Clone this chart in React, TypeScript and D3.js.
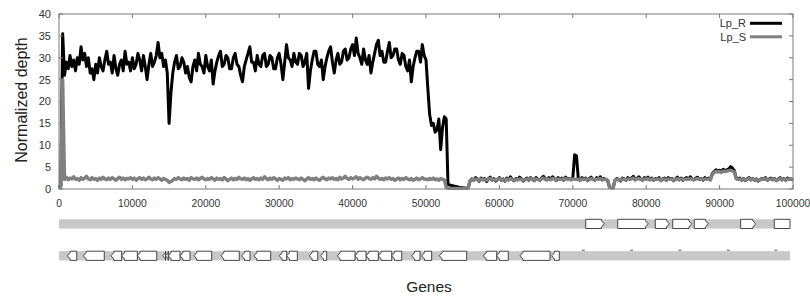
import React from "react";
import * as d3 from "d3";

// ---- data ----
const STEP = 250; // bp between depth samples
const lpR: number[] = [
  0.3, 0.8, 35.5, 26, 29, 27.5, 30.5, 28, 29.5, 27,
  30, 28.5, 32.5, 29.5, 31, 28, 30, 26.5, 27.5, 25,
  28.5, 26.5, 30, 28, 27, 29.5, 31.5, 28.5, 29, 26.5,
  30.5, 27.5, 26, 28.5, 29.5, 27, 31.5, 28.5, 29, 27,
  30, 27.5, 28.5, 31, 29.5, 27, 30.5, 28, 25, 28.5,
  31, 28, 29, 30.5, 33.5, 30, 31, 28, 29.5, 26.5,
  15, 22, 26.5, 29, 30.5, 27.5, 28, 30, 29, 26.5,
  28, 25.5, 24.5, 28, 29.5, 27, 31, 28.5, 28, 26.5,
  30.5, 28, 27, 29.5, 24, 27, 29, 30.5, 31.5, 28,
  28.5, 30.5, 30, 27.5, 27.5, 30, 31, 28.5, 28, 26,
  24.5, 28, 29.5, 31, 32.5, 29, 29, 27, 30.5, 28.5,
  28, 30.5, 31, 28, 28.5, 30.5, 30, 27.5, 27.5, 30,
  31, 28.5, 25, 29, 33, 30, 29.5, 28, 31, 29,
  28.5, 31, 30.5, 28, 29, 31, 23, 27, 29.5, 31.5,
  31.5, 28.5, 28, 29.5, 25, 28, 30, 31.5, 32.5, 29,
  26.5, 29.5, 31, 28.5, 29, 31.5, 32, 29.5, 30, 32,
  33, 30.5, 34.5, 31, 30, 28.5, 32, 29.5, 28.5, 30.5,
  26.5, 29, 31, 33, 34, 30.5, 31.5, 29, 29, 31.5,
  33.5, 30, 30.5, 32, 32, 29.5, 28.5, 31, 30.5, 28,
  27, 29.5, 24.5, 28, 30, 31.5, 31.5, 29, 33, 30.5,
  29.5, 23, 17, 14.5, 15, 13, 13.5, 16, 9, 14,
  16.5, 16, 1, 0.9, 0.8, 0.7, 0.6, 0.5, 0.4, 0.35,
  0.3, 0.25, 0.2, 0.3, 1.8, 2.3, 2.0, 2.6, 2.2, 1.8,
  2.5, 2.1, 2.4, 1.7, 2.3, 2.7, 2.0, 2.4, 1.8, 2.2,
  2.6, 2.0, 2.3, 1.8, 2.5, 2.1, 2.8, 2.2, 1.9, 2.4,
  2.1, 2.7, 2.3, 1.8, 2.2, 2.5, 2.0, 2.6, 2.3, 1.9,
  2.6, 2.2, 2.0, 2.5, 2.9, 2.3, 2.1, 2.6, 2.2, 2.8,
  2.4, 1.9, 2.6, 2.2, 2.5, 2.0, 2.7, 2.3, 2.4, 2.1,
  2.5, 7.8, 7.6, 2.3, 2.0, 2.6, 2.2, 2.5, 1.9, 2.4,
  2.7, 2.2, 2.0, 2.6, 2.3, 2.8, 2.1, 2.4, 2.2, 1.9,
  0.5, 0.3, 0.3, 2.0, 2.4, 2.1, 1.8, 2.5, 2.3, 2.0,
  2.6, 2.2, 2.5, 2.9, 2.1, 2.4, 2.8, 2.3, 2.0, 2.6,
  2.3, 2.7, 2.1, 2.5, 2.0, 2.4, 2.2, 2.6, 1.9, 2.3,
  2.5, 2.0, 2.6, 2.2, 2.4, 1.9, 2.3, 2.7, 2.1, 2.5,
  2.0, 2.4, 2.6, 2.2, 2.8, 2.3, 2.1, 2.5, 2.7, 2.2,
  2.4, 2.0, 2.6, 2.3, 2.5, 2.1, 3.5, 4.0, 4.4, 4.1,
  4.3, 4.0, 4.5, 4.2, 4.4, 4.6, 5.1, 4.8, 4.2, 2.6,
  2.2, 2.5, 2.0, 2.4, 1.9, 2.3, 2.6, 2.1, 2.4, 2.0,
  2.3, 1.8, 2.1, 2.4, 2.2, 2.6, 2.0, 2.3, 2.5, 2.1,
  2.4, 1.9, 2.3, 2.6, 2.1, 2.4, 2.0, 2.5, 2.2, 2.3,
  2.1,
];
const lpS: number[] = [
  0.2, 0.6, 25, 2.2, 2.7, 2.1, 2.5, 2.3, 2.8, 2.2,
  2.4, 2.0, 2.6, 2.2, 2.5, 2.9, 2.3, 2.1, 2.6, 2.2,
  2.4, 2.0, 2.5, 2.2, 2.7, 2.3, 2.1, 2.5, 2.2, 2.6,
  2.3, 2.0, 2.4, 2.7, 2.2, 2.5, 2.1, 2.4, 2.3, 2.6,
  2.2, 2.5, 2.0, 2.4, 2.6, 2.2, 2.5, 2.1, 2.3, 2.7,
  2.3, 2.1, 2.5, 2.2, 2.6, 2.3, 2.0, 2.4, 2.2, 2.0,
  1.5, 1.7, 2.0, 2.4, 2.2, 2.6, 2.3, 2.1, 2.5, 2.2,
  2.4, 2.0, 2.6, 2.3, 2.2, 2.5, 2.1, 2.4, 2.7, 2.3,
  2.1, 2.4, 2.2, 2.6, 2.3, 2.0, 2.5, 2.2, 2.4, 2.1,
  2.6, 2.3, 1.9, 2.2, 2.5, 2.1, 2.4, 2.2, 2.7, 2.3,
  2.2, 2.5, 2.1, 2.4, 2.0, 2.3, 2.6, 2.2, 2.4, 2.1,
  2.5, 2.2, 2.8, 2.4, 2.1, 2.5, 2.2, 2.6, 2.3, 2.0,
  2.4, 2.2, 2.0, 2.5, 2.3, 2.6, 2.1, 2.4, 2.2, 2.5,
  2.3, 2.1, 2.5, 2.2, 1.9, 2.3, 2.6, 2.2, 2.4, 2.1,
  2.5, 2.2, 2.0, 2.4, 2.7, 2.3, 2.1, 2.5, 2.3, 2.6,
  2.2, 2.4, 2.1, 2.7, 2.3, 2.5, 2.9, 2.4, 2.2, 2.6,
  2.3, 2.5, 2.8, 2.2, 2.6, 2.3, 2.1, 2.5, 2.7, 2.4,
  2.2, 2.6, 2.3, 2.9, 2.5, 2.2, 2.4, 2.1, 2.5, 2.3,
  2.6, 2.2, 2.4, 2.0, 2.3, 2.5, 2.1, 2.4, 2.2, 2.6,
  2.3, 2.1, 2.4, 2.0, 2.2, 2.5, 2.1, 2.3, 2.6, 2.2,
  2.3, 2.1, 2.4, 2.2, 2.5, 2.1, 2.3, 2.0, 2.4, 2.2,
  2.1, 0.4, 0.2, 0.15, 0.15, 0.15, 0.15, 0.15, 0.15, 0.15,
  0.15, 0.15, 0.15, 0.3, 1.9, 2.2, 2.0, 2.3, 2.1, 2.0,
  2.3, 2.1, 2.2, 2.0, 2.3, 2.4, 2.1, 2.2, 2.0, 2.2,
  2.4, 2.1, 2.2, 2.0, 2.3, 2.1, 2.4, 2.2, 2.0, 2.2,
  2.1, 2.3, 2.2, 2.0, 2.1, 2.3, 2.1, 2.4, 2.2, 2.0,
  2.3, 2.2, 2.1, 2.3, 2.5, 2.2, 2.1, 2.3, 2.1, 2.4,
  2.3, 2.0, 2.3, 2.2, 2.3, 2.1, 2.4, 2.2, 2.3, 2.1,
  2.3, 2.2, 2.2, 2.2, 2.0, 2.3, 2.2, 2.3, 2.0, 2.2,
  2.4, 2.2, 2.1, 2.3, 2.2, 2.4, 2.1, 2.2, 2.2, 2.0,
  0.4, 0.3, 0.3, 2.0, 2.2, 2.1, 2.0, 2.3, 2.2, 2.1,
  2.3, 2.2, 2.3, 2.5, 2.1, 2.3, 2.4, 2.2, 2.1, 2.3,
  2.2, 2.4, 2.1, 2.3, 2.1, 2.2, 2.2, 2.3, 2.0, 2.2,
  2.3, 2.1, 2.3, 2.2, 2.2, 2.0, 2.2, 2.4, 2.1, 2.3,
  2.1, 2.2, 2.3, 2.2, 2.4, 2.2, 2.1, 2.3, 2.4, 2.2,
  2.3, 2.1, 2.3, 2.2, 2.3, 2.1, 3.3, 3.8, 4.0, 3.9,
  4.0, 3.8, 4.1, 4.0, 4.1, 4.2, 4.3, 4.1, 3.9, 2.4,
  2.2, 2.3, 2.1, 2.3, 2.0, 2.2, 2.4, 2.1, 2.3, 2.1,
  2.2, 2.0, 2.1, 2.3, 2.2, 2.4, 2.1, 2.2, 2.3, 2.1,
  2.3, 2.0, 2.2, 2.4, 2.1, 2.3, 2.1, 2.3, 2.2, 2.2,
  2.1,
];
const seriesNames = ["Lp_R", "Lp_S"];
const xTicks = [0, 10000, 20000, 30000, 40000, 50000, 60000, 70000, 80000, 90000, 100000];
const yTicks = [0, 5, 10, 15, 20, 25, 30, 35, 40];

// gene track 1 (forward strand): [start, end, hasArrow]
const track1Genes: [number, number, number][] = [
  [71760, 74290, 1], [76120, 80290, 1], [81240, 83150, 1], [83610, 86200, 1],
  [86550, 88460, 1], [92870, 94920, 1], [97450, 99590, 0],
];
// gene track 2 (reverse strand): [start, end]
const track2Genes: [number, number][] = [
  [1130, 2410], [3310, 6170], [7080, 8540], [8540, 10670], [10670, 13310],
  [14130, 14510], [14510, 14890], [14890, 16490], [16490, 17850], [18390, 20800],
  [22070, 24560], [24890, 26020], [26570, 28840], [30010, 31020], [31020, 32470],
  [34100, 35250], [35650, 36470], [37920, 40330], [40330, 41830], [41830, 43500],
  [43500, 45330], [45330, 46690], [48050, 49180], [49410, 50770], [51810, 55540],
  [57810, 59630], [59630, 61210], [62810, 66890], [67120, 68160],
];
const track2Marks = [71430, 78020, 84600, 91190, 97680];
const trackEnd = 99590;

const FONT = "'Liberation Sans', Arial, Helvetica, sans-serif";

export default function App() {
  const W = 810, H = 297;
  const x = d3.scaleLinear().domain([0, 100000]).range([59, 793]);
  const y = d3.scaleLinear().domain([0, 40]).range([189, 14]);
  const line = d3
    .line<number>()
    .x((_, i) => x(i * STEP))
    .y((d) => y(d))
    .curve(d3.curveLinear);

  const frame = "#7a7a7a";
  const tickLen = 4;

  const t1Top = 219.3, t1H = 9.2;
  const t2Top = 251.2, t2H = 9.2;
  const arrowW = 2.8;

  const fwdPath = (s: number, e: number, top: number, h: number, arrow: number) => {
    const xs = x(s), xe = x(e);
    if (!arrow) return `M${xs},${top}H${xe}V${top + h}H${xs}Z`;
    const xb = xe - arrowW;
    return `M${xs},${top}H${xb}V${top + 1.5}L${xe},${top + h / 2}L${xb},${top + h - 1.5}V${top + h}H${xs}Z`;
  };
  const revPath = (s: number, e: number, top: number, h: number) => {
    const xs = x(s), xe = x(e);
    const xb = xs + arrowW;
    return `M${xe},${top}H${xb}V${top + 1.5}L${xs},${top + h / 2}L${xb},${top + h - 1.5}V${top + h}H${xe}Z`;
  };

  return (
    <svg
      width={W}
      height={H}
      style={{ position: "absolute", left: 0, top: 0, background: "#fff" }}
      fontFamily={FONT}
    >
      <rect x={0} y={0} width={W} height={H} fill="#fff" />
      {/* data lines */}
      <path d={line(lpR) || ""} fill="none" stroke="#000" strokeWidth={3} strokeLinejoin="round" />
      <path d={line(lpS) || ""} fill="none" stroke="#808080" strokeWidth={3.4} strokeLinejoin="round" />

      {/* frame */}
      <rect x={x(0)} y={y(40)} width={x(100000) - x(0)} height={y(0) - y(40)} fill="none" stroke={frame} strokeWidth={1} />
      {xTicks.map((t) => (
        <g key={"xt" + t}>
          <line x1={x(t)} x2={x(t)} y1={y(0)} y2={y(0) - tickLen} stroke={frame} />
          <line x1={x(t)} x2={x(t)} y1={y(40)} y2={y(40) + tickLen} stroke={frame} />
          <text x={x(t)} y={207} fontSize={10.3} textAnchor="middle" fill="#333">
            {t}
          </text>
        </g>
      ))}
      {yTicks.map((t) => (
        <g key={"yt" + t}>
          <line x1={x(0)} x2={x(0) + tickLen} y1={y(t)} y2={y(t)} stroke={frame} />
          <line x1={x(100000)} x2={x(100000) - tickLen} y1={y(t)} y2={y(t)} stroke={frame} />
          <text x={51} y={y(t)} dy="0.36em" fontSize={11} textAnchor="end" fill="#333">
            {t}
          </text>
        </g>
      ))}

      {/* legend */}
      {seriesNames.map((n, i) => (
        <g key={n}>
          <text x={746} y={27 + i * 13.5} fontSize={11} textAnchor="end" fill="#333">
            {n}
          </text>
          <line
            x1={750}
            x2={782}
            y1={23.3 + i * 13.5}
            y2={23.3 + i * 13.5}
            stroke={i === 0 ? "#000" : "#808080"}
            strokeWidth={3}
          />
        </g>
      ))}

      {/* axis titles */}
      <text
        transform={`translate(21,100) rotate(-90)`}
        fontSize={16}
        textAnchor="middle"
        dy="0.35em"
        fill="#222"
      >
        Normalized depth
      </text>
      <text x={429} y={292} fontSize={15.5} textAnchor="middle" fill="#222">
        Genes
      </text>

      {/* gene track 1 */}
      <rect x={x(0)} y={t1Top} width={x(trackEnd) - x(0)} height={t1H} fill="#c8c8c8" />
      {track1Genes.map(([s, e, a], i) => (
        <path key={"g1" + i} d={fwdPath(s, e, t1Top, t1H, a)} fill="#fff" stroke="#333" strokeWidth={0.9} />
      ))}

      {/* gene track 2 */}
      <rect x={x(0)} y={t2Top} width={x(trackEnd) - x(0)} height={t2H} fill="#c8c8c8" />
      {track2Genes.map(([s, e], i) => (
        <path key={"g2" + i} d={revPath(s, e, t2Top, t2H)} fill="#fff" stroke="#333" strokeWidth={0.9} />
      ))}
      {track2Marks.map((m, i) => (
        <line key={"m" + i} x1={x(m) - 1.5} x2={x(m) + 1.5} y1={t2Top - 1} y2={t2Top - 1} stroke="#555" strokeWidth={1} />
      ))}
    </svg>
  );
}
